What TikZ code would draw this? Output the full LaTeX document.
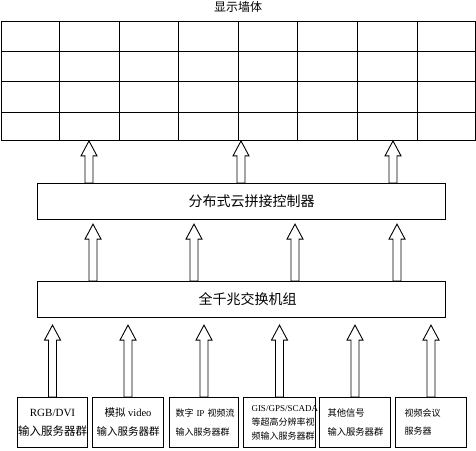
\documentclass[tikz,border=0pt]{standalone}
\usepackage{fontspec}
\setmainfont{Liberation Serif}
\newfontfamily\cjk{Noto Sans CJK SC}
\usetikzlibrary{calc}

\tikzset{
  box/.style={draw, line width=1.1pt, inner sep=0pt, anchor=north west},
  inbox/.style={box, line width=1pt, minimum height=50pt},
  blockarrow/.style={line width=0.9pt, to path={let \p1=(\tikztostart), \p2=(\tikztotarget) in
    (\x1-4pt,\y1) -- (\x1-4pt,\y2-15pt) -- (\x1-8pt,\y2-15pt) -- (\x1,\y2)
    -- (\x1+8pt,\y2-15pt) -- (\x1+4pt,\y2-15pt) -- (\x1+4pt,\y1) -- cycle}},
}

\begin{document}
\begin{tikzpicture}[x=1pt,y=-1pt]
  \useasboundingbox (0,0) rectangle (476,450);

  % display wall
  \node[font=\cjk\fontsize{12}{14}\selectfont] (title) at (238,7) {显示墙体};
  \node[box, line width=0.9pt, minimum width=474pt, minimum height=119pt] (wall) at (1,21) {};
  \foreach \gx in {59,119,178,238,297,357,417}
    \draw[line width=0.9pt] (\gx,21) -- (\gx,140);
  \foreach \gy in {51,81,112}
    \draw[line width=0.9pt] (1,\gy) -- (475,\gy);

  % controller and switch
  \node[box, minimum width=408pt, minimum height=36pt, font=\cjk\fontsize{14}{16}\selectfont]
    (ctl) at (37,183) {\hspace*{20pt}分布式云拼接控制器};
  \node[box, minimum width=408pt, minimum height=36pt, font=\cjk\fontsize{14}{16}\selectfont]
    (sw) at (37,281) {\hspace*{12pt}全千兆交换机组};

  % input servers
  \node[inbox, minimum width=70pt, align=center, font=\fontsize{11}{19}\selectfont]
    (in1) at (17,397) {RGB/DVI\\{\cjk\fontsize{11.5}{19}\selectfont 输入服务器群}};
  \node[inbox, minimum width=71pt, align=center, font=\fontsize{10.5}{19}\selectfont]
    (in2) at (92,397) {{\cjk 模拟} video\\{\cjk 输入服务器群}};
  \node[inbox, text width=57pt, inner xsep=6pt, minimum width=69pt, align=left, font=\fontsize{9}{19}\selectfont]
    (in3) at (169,397) {\mbox{{\cjk 数字} IP {\cjk 视频流}}\\{\cjk 输入服务器群}};
  \node[inbox, text width=56pt, inner xsep=8pt, minimum width=72pt, align=left, font=\fontsize{9}{14}\selectfont]
    (in4) at (243,397) {GIS/GPS/SCADA\\{\cjk 等超高分辨率视}\\{\cjk 频输入服务器群}};
  \node[inbox, text width=55pt, inner xsep=8pt, minimum width=71pt, align=left, font=\cjk\fontsize{9.3}{19}\selectfont]
    (in5) at (319,397) {其他信号\\输入服务器群};
  \node[inbox, text width=53pt, inner xsep=9pt, minimum width=71pt, align=left, font=\cjk\fontsize{9}{18}\selectfont]
    (in6) at (395,397) {视频会议\\服务器};

  % arrows
  \foreach \ax in {89,241,393}
    \draw[blockarrow] (ctl.north -| \ax,0) to (wall.south -| \ax,0);
  \foreach \ax in {93,194,295,397}
    \draw[blockarrow] (sw.north -| \ax,0) to ($(ctl.south -| \ax,0)+(0,4)$);
  \foreach \n in {in1,in2,in3,in4,in5,in6}
    \draw[blockarrow] (\n.north) to ($(sw.south -| \n.north)+(0,7)$);
\end{tikzpicture}
\end{document}
